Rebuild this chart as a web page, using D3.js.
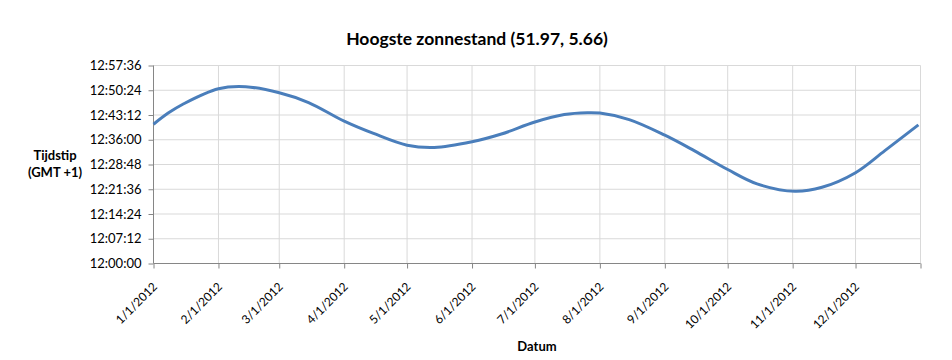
<!DOCTYPE html>
<html>
<head>
<meta charset="utf-8">
<script src="https://cdn.jsdelivr.net/npm/d3@7"></script>
<style>
  body { margin: 0; background: #fff; }
  text { font-family: Lato, "Noto Sans", sans-serif; fill: #000; }
  .grid line { stroke: #d9d9d9; stroke-width: 1; }
  .axis path, .axis line { stroke: #868686; }
</style>
</head>
<body>
<div id="chart"></div>
<script>
// noon readings (date, time of highest sun)
const dates = ["2012-01-01", "2012-01-08", "2012-01-15", "2012-02-01", "2012-02-14",
  "2012-03-01", "2012-03-15", "2012-04-01", "2012-04-15", "2012-05-01", "2012-05-14",
  "2012-06-01", "2012-06-15", "2012-07-01", "2012-07-15", "2012-07-26", "2012-08-01",
  "2012-08-15", "2012-09-01", "2012-09-15", "2012-10-01", "2012-10-15", "2012-11-02",
  "2012-11-15", "2012-12-01", "2012-12-15", "2012-12-31"];
const times = ["12:40:30", "12:43:45", "12:46:20", "12:50:50", "12:51:25",
  "12:49:40", "12:46:50", "12:41:25", "12:37:50", "12:34:25", "12:33:45",
  "12:35:25", "12:37:40", "12:41:10", "12:43:20", "12:43:52", "12:43:45",
  "12:41:52", "12:37:20", "12:32:50", "12:27:20", "12:23:10", "12:21:00",
  "12:22:10", "12:26:25", "12:32:50", "12:40:20"];
const xTicks = ["2012-01-01", "2012-02-01", "2012-03-01", "2012-04-01", "2012-05-01",
  "2012-06-01", "2012-07-01", "2012-08-01", "2012-09-01", "2012-10-01", "2012-11-01",
  "2012-12-01"];
const yTicks = ["12:00:00", "12:07:12", "12:14:24", "12:21:36", "12:28:48",
  "12:36:00", "12:43:12", "12:50:24", "12:57:36"];

const width = 952, height = 360;
const margin = { top: 65.5, right: 31.5, bottom: 96.5, left: 153.5 };

const parseDate = d3.timeParse("%Y-%m-%d");
const secs = s => { const p = s.split(":").map(Number); return p[0] * 3600 + p[1] * 60 + p[2]; };
const fmtDate = d3.timeFormat("%-m/%-d/%Y");

const data = dates.map((d, i) => ({ date: parseDate(d), t: secs(times[i]) }));

const x = d3.scaleTime()
  .domain([parseDate("2012-01-01"), parseDate("2013-01-01")])
  .range([margin.left, width - margin.right]);
const y = d3.scaleLinear()
  .domain([secs(yTicks[0]), secs(yTicks[yTicks.length - 1])])
  .range([height - margin.bottom, margin.top]);

const svg = d3.select("#chart").append("svg")
  .attr("width", width).attr("height", height);

// gridlines
const grid = svg.append("g").attr("class", "grid");
grid.selectAll(".h").data(yTicks.slice(1)).join("line")
  .attr("x1", margin.left).attr("x2", width - margin.right)
  .attr("y1", d => y(secs(d))).attr("y2", d => y(secs(d)));
grid.selectAll(".v").data(xTicks.slice(1).map(parseDate).concat([x.domain()[1]])).join("line")
  .attr("x1", d => x(d)).attr("x2", d => x(d))
  .attr("y1", margin.top).attr("y2", height - margin.bottom);

// axes
const yAxis = d3.axisLeft(y)
  .tickValues(yTicks.map(secs))
  .tickFormat((d, i) => yTicks[i])
  .tickSize(5).tickPadding(7);
svg.append("g").attr("class", "axis")
  .attr("transform", `translate(${margin.left},0)`)
  .call(yAxis)
  .call(g => g.select(".domain").attr("d", `M0,${margin.top}V${height - margin.bottom}`))
  .selectAll("text").style("font-size", "13px");

const xAxis = d3.axisBottom(x)
  .tickValues(xTicks.map(parseDate).concat([x.domain()[1]]))
  .tickFormat((d, i) => i < xTicks.length ? fmtDate(d) : "")
  .tickSize(5);
svg.append("g").attr("class", "axis")
  .attr("transform", `translate(0,${height - margin.bottom})`)
  .call(xAxis)
  .call(g => g.select(".domain").attr("d", `M${margin.left},0H${width - margin.right}`))
  .selectAll("text")
  .style("font-size", "12px")
  .style("text-anchor", "end")
  .attr("x", 0).attr("y", 0)
  .attr("dy", "0.35em")
  .attr("transform", "translate(1,21) rotate(-45)");

// line
const line = d3.line()
  .x(d => x(d.date))
  .y(d => y(d.t))
  .curve(d3.curveCatmullRom.alpha(0.5));
svg.append("path")
  .datum(data)
  .attr("d", line)
  .attr("fill", "none")
  .attr("stroke", "#4a7ebb")
  .attr("stroke-width", 3)
  .attr("stroke-linejoin", "round");

// titles
svg.append("text")
  .attr("x", 477).attr("y", 45)
  .attr("text-anchor", "middle")
  .style("font-size", "17.5px").style("font-weight", "bold")
  .text("Hoogste zonnestand (51.97, 5.66)");

const yl = svg.append("text")
  .attr("text-anchor", "middle")
  .style("font-size", "13px").style("font-weight", "bold");
yl.append("tspan").attr("x", 55).attr("y", 160).text("Tijdstip");
yl.append("tspan").attr("x", 55).attr("y", 177).text("(GMT +1)");

svg.append("text")
  .attr("x", (margin.left + width - margin.right) / 2).attr("y", 351)
  .attr("text-anchor", "middle")
  .style("font-size", "13px").style("font-weight", "bold")
  .text("Datum");
</script>
</body>
</html>
